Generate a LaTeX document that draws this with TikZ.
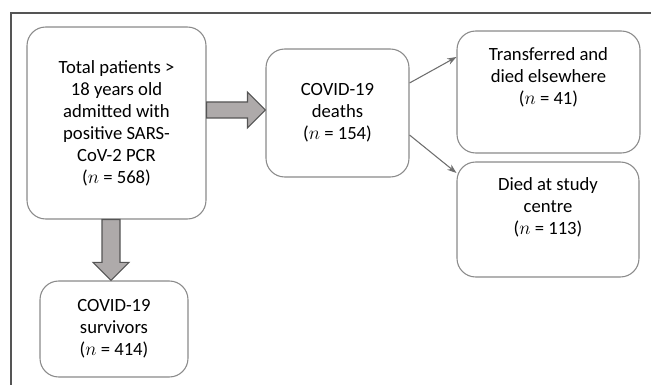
\documentclass[tikz,border=0pt]{standalone}
\usepackage{fontspec}
\setmainfont{Carlito}
\usetikzlibrary{calc,arrows.meta}
\definecolor{boxgray}{HTML}{8A8A8A}
\definecolor{linegray}{HTML}{6E6E6E}
\definecolor{edgegray}{HTML}{555555}
\definecolor{blockgray}{HTML}{AEAAAA}

\begin{document}
\begin{tikzpicture}[x=0.75pt, y=-0.75pt, >={Stealth[length=7pt,width=5pt]},
    % Stil für die Kästchen (Patientengruppen)
        box/.style={rectangle, rounded corners=14pt, draw=boxgray, line width=0.8pt, fill=white, align=center, inner sep=0pt, font=\fontsize{14}{16.5}\selectfont},
    % Stil für die Blockpfeile
        blockarrow/.style={draw=edgegray, fill=blockgray, line width=0.8pt},
    % Stil für die dünnen Pfeile
        relation/.style={->, draw=linegray, line width=0.8pt}]

        \useasboundingbox (0,0) rectangle (651,385);

        % Rahmen oben und links
        \draw[edgegray, line width=0.9pt] (651,13) -- (11,13) -- (11,385);

        % Knoten für die Patientengruppen
        \node[box, minimum width=134.25pt, minimum height=144pt] (total) at (116.5,123) {Total patients >\\ 18 years old\\ admitted with\\ positive SARS-\\ CoV-2 PCR\\ ($n$ = 568)};
        \node[box, minimum width=111pt, minimum height=72pt] (survivors) at (114,329) {COVID-19\\ survivors\\ ($n$ = 414)};
        \node[box, minimum width=107.25pt, minimum height=96pt] (deaths) at (337.5,113) {COVID-19\\ deaths\\ ($n$ = 154)};
        \node[box, minimum width=137.25pt, minimum height=91.5pt] (transfer) at (548.5,92) {Transferred and\\ died elsewhere\\ ($n$ = 41)\\[8pt]};
        \node[box, minimum width=136.5pt, minimum height=86.25pt] (died) at (548,219.5) {Died at study\\ centre\\ ($n$ = 113)\\[4pt]};

        % Blockpfeil nach rechts
        \coordinate (ra) at ($(total.east |- deaths.west)+(0,-3)$);
        \coordinate (rb) at ($(deaths.west)+(0,-3)$);
        \draw[blockarrow] ($(ra)+(0,-8)$) -- ($(rb)+(-18,-8)$) -- ($(rb)+(-18,-18)$) -- (rb)
            -- ($(rb)+(-18,18)$) -- ($(rb)+(-18,8)$) -- ($(ra)+(0,8)$) -- cycle;

        % Blockpfeil nach unten
        \coordinate (da) at ($(total.south -| survivors.north)+(-3,0)$);
        \coordinate (db) at ($(survivors.north)+(-3,0)$);
        \draw[blockarrow] ($(da)+(-9,0)$) -- ($(db)+(-9,-18)$) -- ($(db)+(-18,-18)$) -- (db)
            -- ($(db)+(18,-18)$) -- ($(db)+(9,-18)$) -- ($(da)+(9,0)$) -- cycle;

        % Kanten zu den Todesfällen
        \draw[relation] ($(deaths.east)+(0,-30)$) -- ($(transfer.west)+(0,-35)$);
        \draw[relation] ($(deaths.east)+(0,22)$) -- ($(died.west)+(0,-46.5)$);
    \end{tikzpicture}
\end{document}
